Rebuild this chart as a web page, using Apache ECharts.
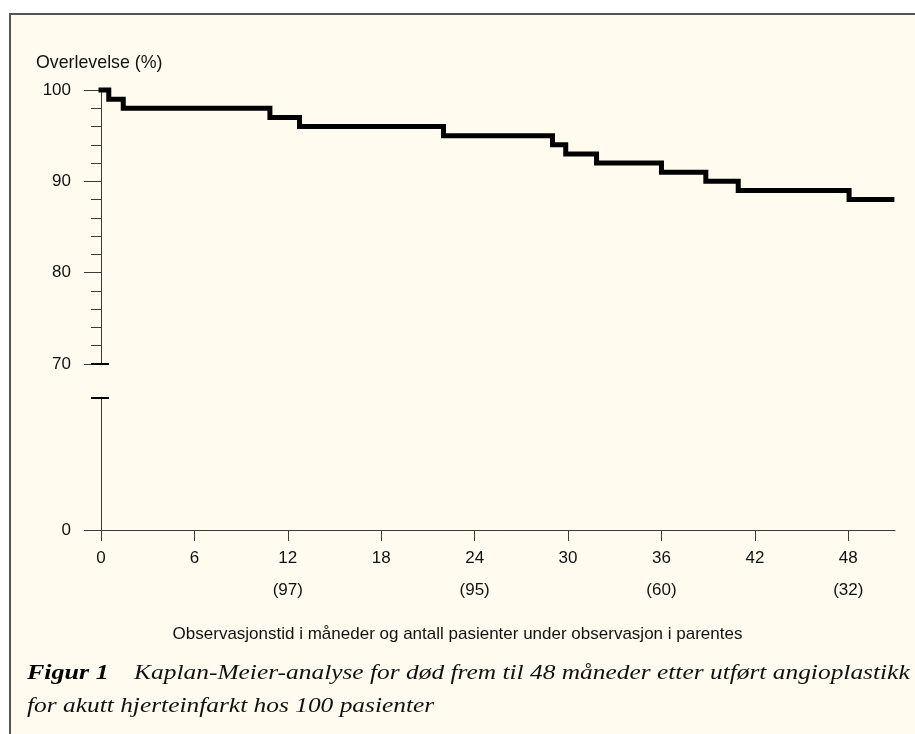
<!DOCTYPE html>
<html>
<head>
<meta charset="utf-8">
<script src="https://cdn.jsdelivr.net/npm/echarts@6/dist/echarts.min.js"></script>
<style>
  html, body { margin: 0; padding: 0; background: #ffffff; }
  #frame { position: absolute; left: 9px; top: 13px; width: 906px; height: 721px;
           background: #fffcef; border-left: 2px solid #555; border-top: 2px solid #555; }
  #chart { position: absolute; left: 0; top: 0; width: 915px; height: 734px; }
</style>
</head>
<body>
<div id="frame"></div>
<div id="chart"></div>
<script>
// ---- data ----
const months   = [0, 0.5, 1.43, 10.85, 12.75, 22.0, 29.0, 29.85, 31.83, 36.0, 38.85, 40.93, 48.05, 50.8];
const survival = [100, 99, 98, 97, 96, 95, 94, 93, 92, 91, 90, 89, 88, 88];
const xTicks = [0, 6, 12, 18, 24, 30, 36, 42, 48];
const atRiskMonths = [12, 24, 36, 48];
const atRiskCounts = [97, 95, 60, 32];
const yTicksUpper = [70, 80, 90, 100];
const yTicksLower = [0];
const yLabel = 'Overlevelse (%)';
const xLabel = 'Observasjonstid i måneder og antall pasienter under observasjon i parentes';
const captionBold = 'Figur 1';
const captionLine1 = 'Kaplan-Meier-analyse for død frem til 48 måneder etter utført angioplastikk';
const captionLine2 = 'for akutt hjerteinfarkt hos 100 pasienter';

const sans = '"Liberation Sans", Arial, Helvetica, sans-serif';
const serif = '"Liberation Serif", "Times New Roman", serif';
const axisColor = '#3a3a3a';

const chart = echarts.init(document.getElementById('chart'), null, {renderer: 'canvas'});

const option = {
  animation: false,
  backgroundColor: 'transparent',
  title: [
    { text: yLabel, left: 31, top: 49, textStyle: { fontFamily: sans, fontSize: 17.8, fontWeight: 'normal', color: '#111' } },
    { text: xLabel, left: 'center', top: 621, textStyle: { fontFamily: sans, fontSize: 17, fontWeight: 'normal', color: '#111' } }
  ],
  graphic: [
    { type: 'text', x: 27, y: 657, scaleX: 1.21, scaleY: 1, silent: true,
      style: {
        text: '{b|' + captionBold + '}    {i|' + captionLine1 + '}\n{i|' + captionLine2 + '}',
        fontFamily: serif, fontSize: 21, fontStyle: 'italic', fontWeight: 'normal', fill: '#111',
        rich: {
          b: { fontFamily: serif, fontSize: 21.5, fontWeight: 'bold', fontStyle: 'italic', fill: '#000', lineHeight: 33 },
          i: { fontFamily: serif, fontSize: 21, fontWeight: 'normal', fontStyle: 'italic', fill: '#111', lineHeight: 33 }
        }
      } }
  ],
  grid: [
    { left: 101, top: 90, width: 794, height: 274 },
    { left: 101, top: 398, width: 794, height: 132 }
  ],
  xAxis: [
    { gridIndex: 0, type: 'value', min: 0, max: 51, show: false },
    { gridIndex: 1, type: 'value', min: 0, max: 51,
      axisLine: { show: true, lineStyle: { color: axisColor, width: 1 } },
      axisTick: { show: true, length: 11, customValues: xTicks, lineStyle: { color: axisColor } },
      splitLine: { show: false },
      axisLabel: { customValues: xTicks, margin: 12,
        formatter: function (v) {
          const k = atRiskMonths.indexOf(v);
          return k >= 0 ? '{a|' + v + '}\n{a|(' + atRiskCounts[k] + ')}' : '{a|' + v + '}';
        },
        rich: { a: { fontFamily: sans, fontSize: 17, color: '#111', lineHeight: 32 } } } }
  ],
  yAxis: [
    { gridIndex: 0, type: 'value', min: 70, max: 100, interval: 10, position: 'left',
      axisLine: { show: true, onZero: false, lineStyle: { color: axisColor, width: 1 } },
      axisTick: { show: true, length: 17, customValues: yTicksUpper, lineStyle: { color: axisColor } },
      minorTick: { show: true, splitNumber: 5, length: 10, lineStyle: { color: axisColor } },
      splitLine: { show: false },
      axisLabel: { customValues: yTicksUpper, margin: 30, fontFamily: sans, fontSize: 17, color: '#111' } },
    { gridIndex: 0, type: 'value', min: 70, max: 100, position: 'left', offset: 10,
      axisLine: { show: false, onZero: false },
      axisTick: { show: true, inside: true, length: 18, customValues: [70], lineStyle: { color: '#000', width: 2 } },
      splitLine: { show: false }, axisLabel: { show: false } },
    { gridIndex: 1, type: 'value', min: 0, max: 1, position: 'left',
      axisLine: { show: true, onZero: false, lineStyle: { color: axisColor, width: 1 } },
      axisTick: { show: true, length: 17, customValues: yTicksLower, lineStyle: { color: axisColor } },
      splitLine: { show: false },
      axisLabel: { customValues: yTicksLower, margin: 30, fontFamily: sans, fontSize: 17, color: '#111' } },
    { gridIndex: 1, type: 'value', min: 0, max: 1, position: 'left', offset: 10,
      axisLine: { show: false, onZero: false },
      axisTick: { show: true, inside: true, length: 18, customValues: [1], lineStyle: { color: '#000', width: 2 } },
      splitLine: { show: false }, axisLabel: { show: false } }
  ],
  series: [
    { type: 'line', xAxisIndex: 0, yAxisIndex: 0, step: 'end', clip: false,
      symbol: 'none', silent: true,
      lineStyle: { color: '#000', width: 5, cap: 'square', join: 'miter' },
      data: months.map((m, i) => [m, survival[i]]) }
  ]
};
chart.setOption(option);
</script>
</body>
</html>
